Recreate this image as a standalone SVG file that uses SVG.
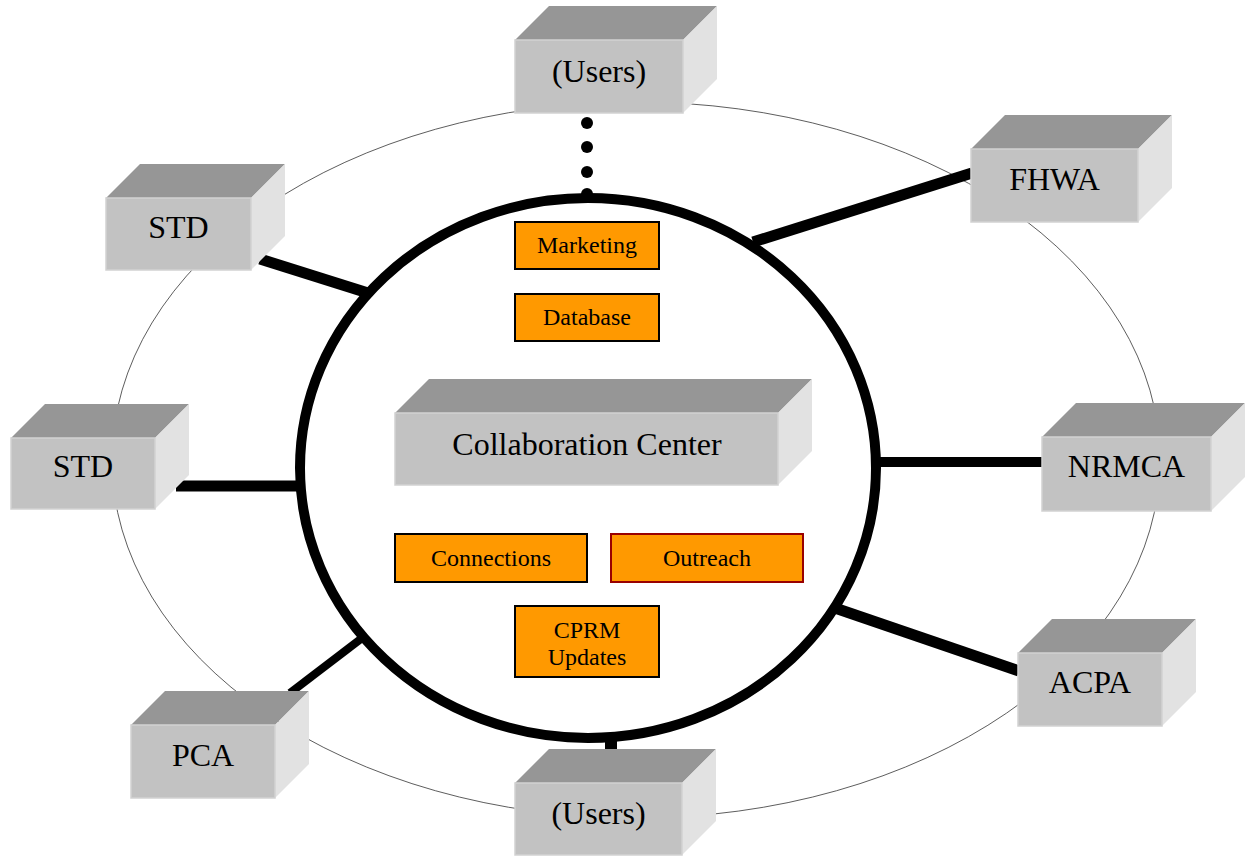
<svg xmlns="http://www.w3.org/2000/svg" width="1246" height="857" viewBox="0 0 1246 857">
<style>
.top{fill:#969696}
.side{fill:#e2e2e2}
.front{fill:#c2c2c2;stroke:#d2d2d2;stroke-width:1.5}
.big{font-family:"Liberation Serif","Times New Roman",serif;font-size:32px;fill:#000;text-anchor:middle}
.org{fill:#ff9900;stroke:#000;stroke-width:2}
.ot{font-family:"Liberation Serif","Times New Roman",serif;font-size:24px;fill:#000;text-anchor:middle}
.conn{stroke:#000;fill:none}
</style>
<rect width="1246" height="857" fill="#fff"/>
<ellipse id="ring" cx="636" cy="460" rx="524" ry="358" fill="none" stroke="#333" stroke-width="0.8"/>
<g id="connectors">
<line class="conn" x1="753" y1="242" x2="972" y2="173" stroke-width="11"/>
<line class="conn" x1="260" y1="259" x2="368" y2="293" stroke-width="11"/>
<line class="conn" x1="176" y1="486" x2="300" y2="486" stroke-width="11"/>
<line class="conn" x1="876" y1="462" x2="1042" y2="462" stroke-width="10"/>
<line class="conn" x1="832" y1="607" x2="1019" y2="671" stroke-width="11"/>
<line class="conn" x1="290" y1="693" x2="366" y2="635" stroke-width="8"/>
<line class="conn" x1="611" y1="737" x2="611" y2="750" stroke-width="12"/>
<circle cx="587" cy="123" r="6" fill="#000"/>
<circle cx="587" cy="147" r="6" fill="#000"/>
<circle cx="587" cy="172" r="6" fill="#000"/>
<circle cx="587" cy="194" r="6" fill="#000"/>
</g>
<g id="center-circle">
<ellipse cx="588" cy="468" rx="288" ry="270" fill="#fff" stroke="#000" stroke-width="10"/>
</g>
<g id="collaboration-center">
<polygon class="top" points="395,413 429,379 812,379 778,413"/>
<polygon class="side" points="778,413 812,379 812,451 778,485"/>
<rect class="front" x="395" y="413" width="383" height="72"/>
<text class="big" x="587" y="455">Collaboration Center</text>
</g>
<g id="users-top">
<polygon class="top" points="515,40 549,6 717,6 683,40"/>
<polygon class="side" points="683,40 717,6 717,79 683,113"/>
<rect class="front" x="515" y="40" width="168" height="73"/>
<text class="big" x="599" y="82">(Users)</text>
</g>
<g id="fhwa">
<polygon class="top" points="971,149 1005,115 1172,115 1138,149"/>
<polygon class="side" points="1138,149 1172,115 1172,188 1138,222"/>
<rect class="front" x="971" y="149" width="167" height="73"/>
<text class="big" x="1054.5" y="190">FHWA</text>
</g>
<g id="std-upper">
<polygon class="top" points="106,198 140,164 285,164 251,198"/>
<polygon class="side" points="251,198 285,164 285,236 251,270"/>
<rect class="front" x="106" y="198" width="145" height="72"/>
<text class="big" x="178.5" y="238">STD</text>
</g>
<g id="std-left">
<polygon class="top" points="11,438 45,404 189,404 155,438"/>
<polygon class="side" points="155,438 189,404 189,475 155,509"/>
<rect class="front" x="11" y="438" width="144" height="71"/>
<text class="big" x="83" y="477">STD</text>
</g>
<g id="nrmca">
<polygon class="top" points="1042,437 1076,403 1245,403 1211,437"/>
<polygon class="side" points="1211,437 1245,403 1245,477 1211,511"/>
<rect class="front" x="1042" y="437" width="169" height="74"/>
<text class="big" x="1126.5" y="477">NRMCA</text>
</g>
<g id="acpa">
<polygon class="top" points="1018,653 1052,619 1196,619 1162,653"/>
<polygon class="side" points="1162,653 1196,619 1196,692 1162,726"/>
<rect class="front" x="1018" y="653" width="144" height="73"/>
<text class="big" x="1090" y="693">ACPA</text>
</g>
<g id="pca">
<polygon class="top" points="131,725 165,691 309,691 275,725"/>
<polygon class="side" points="275,725 309,691 309,764 275,798"/>
<rect class="front" x="131" y="725" width="144" height="73"/>
<text class="big" x="203" y="766">PCA</text>
</g>
<g id="users-bottom">
<polygon class="top" points="515,783 549,749 716,749 682,783"/>
<polygon class="side" points="682,783 716,749 716,821 682,855"/>
<rect class="front" x="515" y="783" width="167" height="72"/>
<text class="big" x="598.5" y="824">(Users)</text>
</g>
<g id="marketing">
<rect class="org" x="515" y="222" width="144" height="47"/>
<text class="ot" x="587" y="253">Marketing</text>
</g>
<g id="database">
<rect class="org" x="515" y="294" width="144" height="47"/>
<text class="ot" x="587" y="325">Database</text>
</g>
<g id="connections">
<rect class="org" x="395" y="534" width="192" height="48"/>
<text class="ot" x="491" y="566">Connections</text>
</g>
<g id="outreach">
<rect class="org" x="611" y="534" width="192" height="48" style="stroke:#990000"/>
<text class="ot" x="707" y="566">Outreach</text>
</g>
<g id="cprm-updates">
<rect class="org" x="515" y="606" width="144" height="71"/>
<text class="ot" x="587" y="638">CPRM</text>
<text class="ot" x="587" y="665">Updates</text>
</g>
</svg>
